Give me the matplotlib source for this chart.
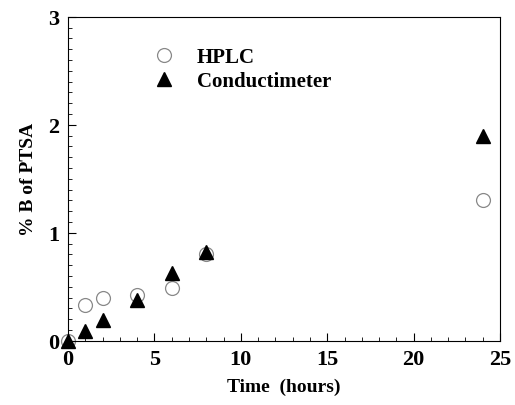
import matplotlib
matplotlib.use('Agg')
import matplotlib.pyplot as plt
from matplotlib.ticker import MultipleLocator

plt.rcParams['font.family'] = ['Liberation Serif', 'DejaVu Serif']
plt.rcParams['font.weight'] = 'bold'

# time (hours)
time = [0, 1, 2, 4, 6, 8, 24]
hplc = [0.0, 0.33, 0.40, 0.42, 0.49, 0.80, 1.30]
conductimeter = [0.0, 0.09, 0.19, 0.38, 0.63, 0.82, 1.90]

fig = plt.figure(figsize=(5.15, 4.06), dpi=100)
ax = fig.add_axes([0.132, 0.158, 0.839, 0.798])

ax.plot(time, hplc, 'o', ms=10, mfc='none', mec='#888888', mew=0.9,
        label='HPLC', clip_on=False)
ax.plot(time, conductimeter, '^', ms=10, color='black',
        label='Conductimeter', clip_on=False)

ax.set_xlim(0, 25)
ax.set_ylim(0, 3)
ax.xaxis.set_major_locator(MultipleLocator(5))
ax.xaxis.set_minor_locator(MultipleLocator(1))
ax.yaxis.set_major_locator(MultipleLocator(1))
ax.yaxis.set_minor_locator(MultipleLocator(0.1))
ax.tick_params(which='both', direction='in', top=False, right=False)
ax.tick_params(which='major', length=6, labelsize=16, pad=6)
ax.tick_params(which='minor', length=3)
for lab in ax.get_xticklabels() + ax.get_yticklabels():
    lab.set_fontweight('bold')

ax.set_xlabel('Time  (hours)', fontsize=14, fontweight='bold', labelpad=6)
ax.set_ylabel('% B of PTSA', fontsize=14, fontweight='bold', labelpad=8)

leg = ax.legend(loc='upper left', bbox_to_anchor=(0.13, 0.965), frameon=False,
                fontsize=15, handletextpad=0.6, labelspacing=0.2)

fig.savefig('out.png', dpi=100)
